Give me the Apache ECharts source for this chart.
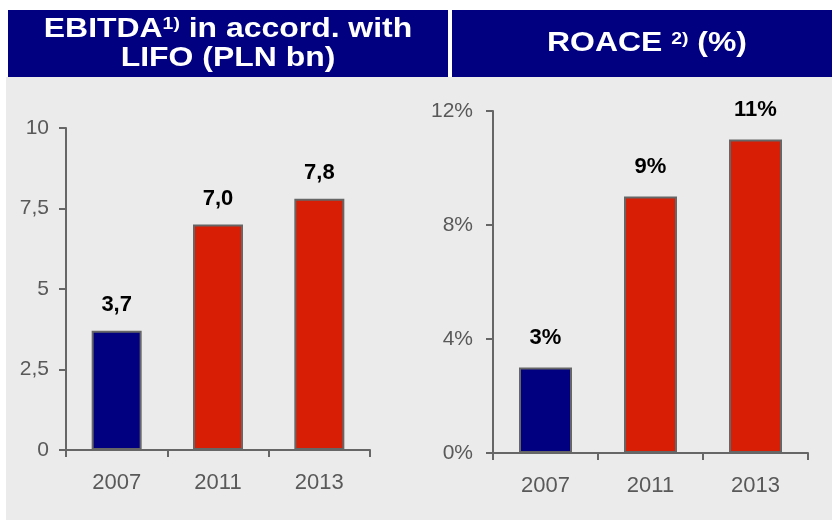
<!DOCTYPE html>
<html>
<head>
<meta charset="utf-8">
<script src="https://cdn.jsdelivr.net/npm/echarts@6/dist/echarts.min.js"></script>
<style>
  html, body { margin: 0; padding: 0; background: #ffffff; }
  #chart { width: 832px; height: 520px; }
</style>
</head>
<body>
<div id="chart"></div>
<script>
// ---- data ----
const categories = ['2007', '2011', '2013'];
const ebitdaValues = [3.7, 7.0, 7.8];
const roaceValues = [3, 9, 11];
const ebitdaTicks = [0, 2.5, 5, 7.5, 10];
const roaceTicks = [0, 4, 8, 12];

// ---- styles ----
const NAVY = '#000080';
const RED = '#d81e04';
const AXIS = '#666666';
const LABEL = '#595959';
const FONT = 'Liberation Sans, Arial, sans-serif';

function barColor(p) { return p.dataIndex === 0 ? NAVY : RED; }

function xAxis(gridIndex) {
  return {
    type: 'category', gridIndex, data: categories,
    axisLine: { lineStyle: { color: AXIS, width: 2 } },
    axisTick: { show: true, length: 7, lineStyle: { color: AXIS, width: 2 } },
    axisLabel: { color: LABEL, fontSize: 22, fontFamily: FONT, margin: 22 }
  };
}

const richHead = {
  b: { fontSize: 28, fontWeight: 'bold', fontFamily: FONT, fill: '#ffffff', lineHeight: 30 },
  s: { fontSize: 17, fontWeight: 'bold', fontFamily: FONT, fill: '#ffffff', lineHeight: 17, verticalAlign: 'top', padding: [2, 0, 0, 0] }
};

const chart = echarts.init(document.getElementById('chart'), null, { renderer: 'canvas' });
chart.setOption({
  backgroundColor: '#ebebeb',
  animation: false,
  graphic: [
    { type: 'rect', shape: { x: 0, y: 0, width: 832, height: 77 }, style: { fill: '#ffffff' } },
    { type: 'rect', shape: { x: 0, y: 0, width: 6, height: 520 }, style: { fill: '#ffffff' } },
    { type: 'rect', shape: { x: 8, y: 10, width: 440, height: 67 }, style: { fill: NAVY } },
    { type: 'rect', shape: { x: 452, y: 10, width: 380, height: 67 }, style: { fill: NAVY } },
    {
      type: 'text', x: 228, y: 29, scaleX: 1.14,
      style: {
        text: '{b|EBITDA}{s|1)}{b| in accord. with}',
        align: 'center', verticalAlign: 'middle', rich: richHead
      }
    },
    {
      type: 'text', x: 228, y: 58, scaleX: 1.14,
      style: {
        text: 'LIFO (PLN bn)', align: 'center', verticalAlign: 'middle',
        fontSize: 28, fontWeight: 'bold', fontFamily: FONT, fill: '#ffffff'
      }
    },
    {
      type: 'text', x: 647, y: 43.5, scaleX: 1.14,
      style: {
        text: '{b|ROACE }{s|2)}{b| (%)}',
        align: 'center', verticalAlign: 'middle', rich: richHead
      }
    }
  ],
  grid: [
    { left: 66, top: 128, width: 304, height: 322 },
    { left: 493, top: 111, width: 315, height: 342 }
  ],
  xAxis: [xAxis(0), xAxis(1)],
  yAxis: [
    {
      type: 'value', gridIndex: 0,
      min: ebitdaTicks[0], max: ebitdaTicks[ebitdaTicks.length - 1], interval: ebitdaTicks[1] - ebitdaTicks[0],
      splitLine: { show: false },
      axisLine: { show: true, lineStyle: { color: AXIS, width: 2 } },
      axisTick: { show: true, length: 7, lineStyle: { color: AXIS, width: 2 } },
      axisLabel: {
        color: LABEL, fontSize: 21, fontFamily: FONT, margin: 17,
        formatter: v => String(v).replace('.', ',')
      }
    },
    {
      type: 'value', gridIndex: 1,
      min: roaceTicks[0], max: roaceTicks[roaceTicks.length - 1], interval: roaceTicks[1] - roaceTicks[0],
      splitLine: { show: false },
      axisLine: { show: true, lineStyle: { color: AXIS, width: 2 } },
      axisTick: { show: true, length: 7, lineStyle: { color: AXIS, width: 2 } },
      axisLabel: { color: LABEL, fontSize: 21, fontFamily: FONT, margin: 20, formatter: '{value}%' }
    }
  ],
  series: [
    {
      type: 'bar', xAxisIndex: 0, yAxisIndex: 0, data: ebitdaValues, barWidth: 50,
      itemStyle: { color: barColor, borderColor: AXIS, borderWidth: 2 },
      label: {
        show: true, position: 'top', distance: 15, color: '#000', fontSize: 22, fontWeight: 'bold', fontFamily: FONT,
        formatter: p => p.value.toFixed(1).replace('.', ',')
      }
    },
    {
      type: 'bar', xAxisIndex: 1, yAxisIndex: 1, data: roaceValues, barWidth: 53,
      itemStyle: { color: barColor, borderColor: AXIS, borderWidth: 2 },
      label: {
        show: true, position: 'top', distance: 19, color: '#000', fontSize: 22, fontWeight: 'bold', fontFamily: FONT,
        formatter: p => p.value + '%'
      }
    }
  ]
});
</script>
</body>
</html>
